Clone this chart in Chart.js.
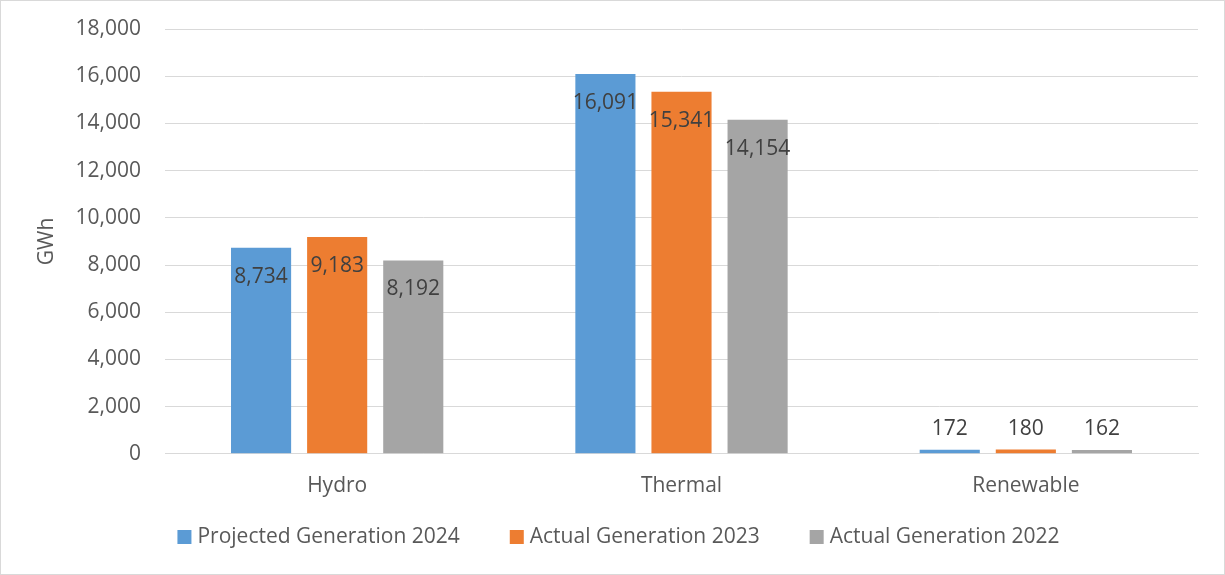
<!DOCTYPE html>
<html>
<head>
<meta charset="utf-8">
<script src="https://cdn.jsdelivr.net/npm/chart.js@4"></script>
<style>
html,body{margin:0;padding:0;background:#fff;}
#wrap{width:1225px;height:575px;box-sizing:border-box;border:1px solid #d9d9d9;position:relative;}
canvas{display:block;}
</style>
</head>
<body>
<div id="wrap"><canvas id="c" width="1223" height="573"></canvas></div>
<script>
const categories = ["Hydro", "Thermal", "Renewable"];
const projected2024 = [8734, 16091, 172];
const actual2023 = [9183, 15341, 180];
const actual2022 = [8192, 14154, 162];
const seriesNames = ["Projected Generation 2024", "Actual Generation 2023", "Actual Generation 2022"];
const seriesColors = ['#5b9bd5', '#ed7d31', '#a5a5a5'];
const yTicks = [0, 2000, 4000, 6000, 8000, 10000, 12000, 14000, 16000, 18000];

const FONT = "'Open Sans', sans-serif";
const FS = 21;
const TXT = "#595959";

const labelPlugin = {
  id: 'barLabels',
  afterDatasetsDraw(chart) {
    const ctx = chart.ctx;
    ctx.save();
    ctx.font = FS + "px " + FONT;
    ctx.fillStyle = "#404040";
    ctx.textAlign = "center";
    ctx.textBaseline = "middle";
    chart.data.datasets.forEach((ds, i) => {
      const meta = chart.getDatasetMeta(i);
      meta.data.forEach((bar, j) => {
        const v = ds.data[j];
        const txt = v.toLocaleString('en-US');
        const h = bar.base - bar.y;
        let y = h > 40 ? bar.y + 29 : bar.y - 21;
        ctx.fillText(txt, bar.x, y);
      });
    });
    ctx.restore();
  }
};

const legendPlugin = {
  id: 'customLegend',
  afterDraw(chart) {
    const ctx = chart.ctx;
    ctx.save();
    ctx.font = FS + "px " + FONT;
    const box = 14, gapText = 6, gapItem = 50;
    const items = chart.data.datasets.map(ds => ({text: ds.label, color: ds.backgroundColor, w: ctx.measureText(ds.label).width}));
    let total = items.reduce((s, it) => s + box + gapText + it.w, 0) + gapItem * (items.length - 1);
    let x = (chart.width - total) / 2 + 6;
    const y = 536;
    ctx.textBaseline = "middle";
    ctx.textAlign = "left";
    items.forEach(it => {
      ctx.fillStyle = it.color;
      ctx.fillRect(x, y - box / 2, box, box);
      ctx.fillStyle = TXT;
      ctx.fillText(it.text, x + box + gapText, y);
      x += box + gapText + it.w + gapItem;
    });
    ctx.restore();
  }
};

new Chart(document.getElementById('c'), {
  type: 'bar',
  data: {
    labels: categories,
    datasets: [
      {label: seriesNames[0], data: projected2024, backgroundColor: seriesColors[0]},
      {label: seriesNames[1], data: actual2023, backgroundColor: seriesColors[1]},
      {label: seriesNames[2], data: actual2022, backgroundColor: seriesColors[2]}
    ]
  },
  options: {
    responsive: false,
    animation: false,
    layout: {padding: {top: 28, right: 26, left: 0, bottom: 55}},
    datasets: {bar: {categoryPercentage: 0.663, barPercentage: 0.79}},
    plugins: {
      tooltip: {enabled: false},
      legend: {display: false}
    },
    scales: {
      x: {
        grid: {display: false, drawTicks: false},
        border: {display: true, color: '#d9d9d9'},
        ticks: {color: TXT, font: {family: FONT, size: FS}, padding: 20}
      },
      y: {
        min: 0, max: 18000,
        afterBuildTicks(scale) { scale.ticks = yTicks.map(v => ({value: v})); },
        afterFit(scale) { scale.width = 164; scale.paddingTop = 0; scale.paddingBottom = 0; },
        grid: {color: '#d9d9d9', drawTicks: false},
        border: {display: false},
        title: {display: true, text: 'GWh', color: TXT, font: {family: FONT, size: FS}, padding: {top: 33, bottom: 0}},
        ticks: {color: TXT, font: {family: FONT, size: FS}, padding: 24,
          callback: v => v.toLocaleString('en-US')}
      }
    }
  },
  plugins: [labelPlugin, legendPlugin]
});
</script>
</body>
</html>
